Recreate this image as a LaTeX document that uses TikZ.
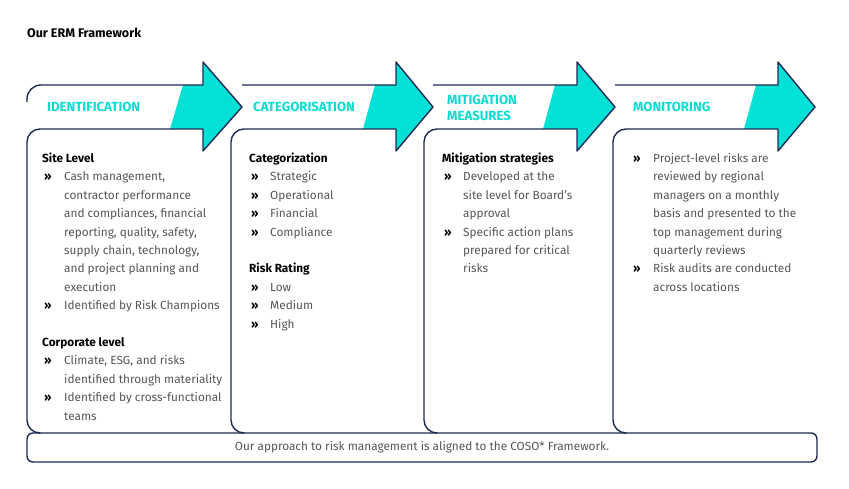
\documentclass[tikz,border=0pt]{standalone}
\usepackage{fontspec}
\setmainfont{Fira Sans}
\usepackage{array}

\definecolor{ermnavy}{HTML}{1F2A55}
\definecolor{ermcyan}{HTML}{03E0D6}
\definecolor{ermhead}{HTML}{0ADCD2}
\definecolor{ermtext}{HTML}{555555}

\newcommand{\ermbul}{\hspace{2pt}\textbf{\color{black}»}}
\newcommand{\ermsub}[1]{\multicolumn{2}{@{}l@{}}{\textbf{\color{black}#1}}}

\begin{document}
\begin{tikzpicture}[x=1pt, y=-1pt,
    outline/.style={draw=ermnavy, line width=1.4pt, line join=round},
    headfill/.style={fill=ermcyan},
    stagehead/.style={anchor=west, inner sep=0pt, align=left, text=ermhead,
        font=\fontsize{13.2}{16}\selectfont\bfseries},
    boxtext/.style={anchor=north west, inner sep=0pt, text=ermtext,
        font=\fontsize{11.8}{18.4}\selectfont}]

            \useasboundingbox (0,0) rectangle (849,489);

            \node[anchor=west, inner sep=0pt, font=\fontsize{12.5}{14}\selectfont\bfseries] (title) at (27,33) {Our ERM Framework};

            \fill[headfill] (183,85) -- (203,85) -- (203,62) -- (242,107) -- (203,151) -- (203,129) -- (170,129) -- cycle;
            \fill[headfill] (375,85) -- (396,85) -- (396,62) -- (433,107) -- (396,151) -- (396,129) -- (363,129) -- cycle;
            \fill[headfill] (555,85) -- (577,85) -- (577,62) -- (615,107) -- (577,151) -- (577,129) -- (543,129) -- cycle;
            \fill[headfill] (756,85) -- (778,85) -- (778,62) -- (815,107) -- (778,151) -- (778,129) -- (744,129) -- cycle;

            \draw[outline] (27,102) [rounded corners=14pt] -- (27,85) -- (100,85) [sharp corners] -- (203,85) -- (203,62) -- (242,107) -- (203,151) -- (203,129) -- (100,129) [rounded corners=13pt] -- (27,129) -- (27,433) -- (38,433);
            \draw[outline] (242,85) -- (396,85) -- (396,62) -- (433,107) -- (396,151) -- (396,129) -- (300,129) [rounded corners=13pt] -- (231,129) -- (231,433) -- (242,433);
            \draw[outline] (433,85) -- (577,85) -- (577,62) -- (615,107) -- (577,151) -- (577,129) -- (500,129) [rounded corners=13pt] -- (424,129) -- (424,433) -- (435,433);
            \draw[outline] (615,85) -- (778,85) -- (778,62) -- (815,107) -- (778,151) -- (778,129) -- (700,129) [rounded corners=13pt] -- (613,129) -- (613,433) -- (624,433);

            \node[rectangle, outline, rounded corners=6pt, minimum width=790pt, minimum height=29pt, text=ermtext, font=\fontsize{11.8}{14}\selectfont] (coso) at (422,447.5) {Our approach to risk management is aligned to the COSO* Framework.};

            \node[stagehead] (identhead) at (47,107) {IDENTIFICATION};
            \node[stagehead] (cathead) at (253,107) {CATEGORISATION};
            \node[stagehead] (mithead) at (447,108) {MITIGATION\\MEASURES};
            \node[stagehead] (monhead) at (633,107) {MONITORING};

            \node[boxtext] (identtext) at (42,149.5) {
                \begin{tabular}{@{}p{22pt}@{}l@{}}
                    \ermsub{Site Level}\\
                    \ermbul & Cash management,\\
                    & contractor performance\\
                    & and compliances, financial\\
                    & reporting, quality, safety,\\
                    & supply chain, technology,\\
                    & and project planning and\\
                    & execution\\
                    \ermbul & Identified by Risk Champions\\
                    & \\
                    \ermsub{Corporate level}\\
                    \ermbul & Climate, ESG, and risks\\
                    & identified through materiality\\
                    \ermbul & Identified by cross-functional\\
                    & teams
                \end{tabular}
            };

            \node[boxtext] (cattext) at (249,149.5) {
                \begin{tabular}{@{}p{21pt}@{}l@{}}
                    \ermsub{Categorization}\\
                    \ermbul & Strategic\\
                    \ermbul & Operational\\
                    \ermbul & Financial\\
                    \ermbul & Compliance\\
                    & \\
                    \ermsub{Risk Rating}\\
                    \ermbul & Low\\
                    \ermbul & Medium\\
                    \ermbul & High
                \end{tabular}
            };

            \node[boxtext] (mittext) at (442,149.5) {
                \begin{tabular}{@{}p{21pt}@{}l@{}}
                    \ermsub{Mitigation strategies}\\
                    \ermbul & Developed at the\\
                    & site level for Board's\\
                    & approval\\
                    \ermbul & Specific action plans\\
                    & prepared for critical\\
                    & risks
                \end{tabular}
            };

            \node[boxtext] (montext) at (631,149.5) {
                \begin{tabular}{@{}p{22pt}@{}l@{}}
                    \ermbul & Project-level risks are\\
                    & reviewed by regional\\
                    & managers on a monthly\\
                    & basis and presented to the\\
                    & top management during\\
                    & quarterly reviews\\
                    \ermbul & Risk audits are conducted\\
                    & across locations
                \end{tabular}
            };
        \end{tikzpicture}
\end{document}
